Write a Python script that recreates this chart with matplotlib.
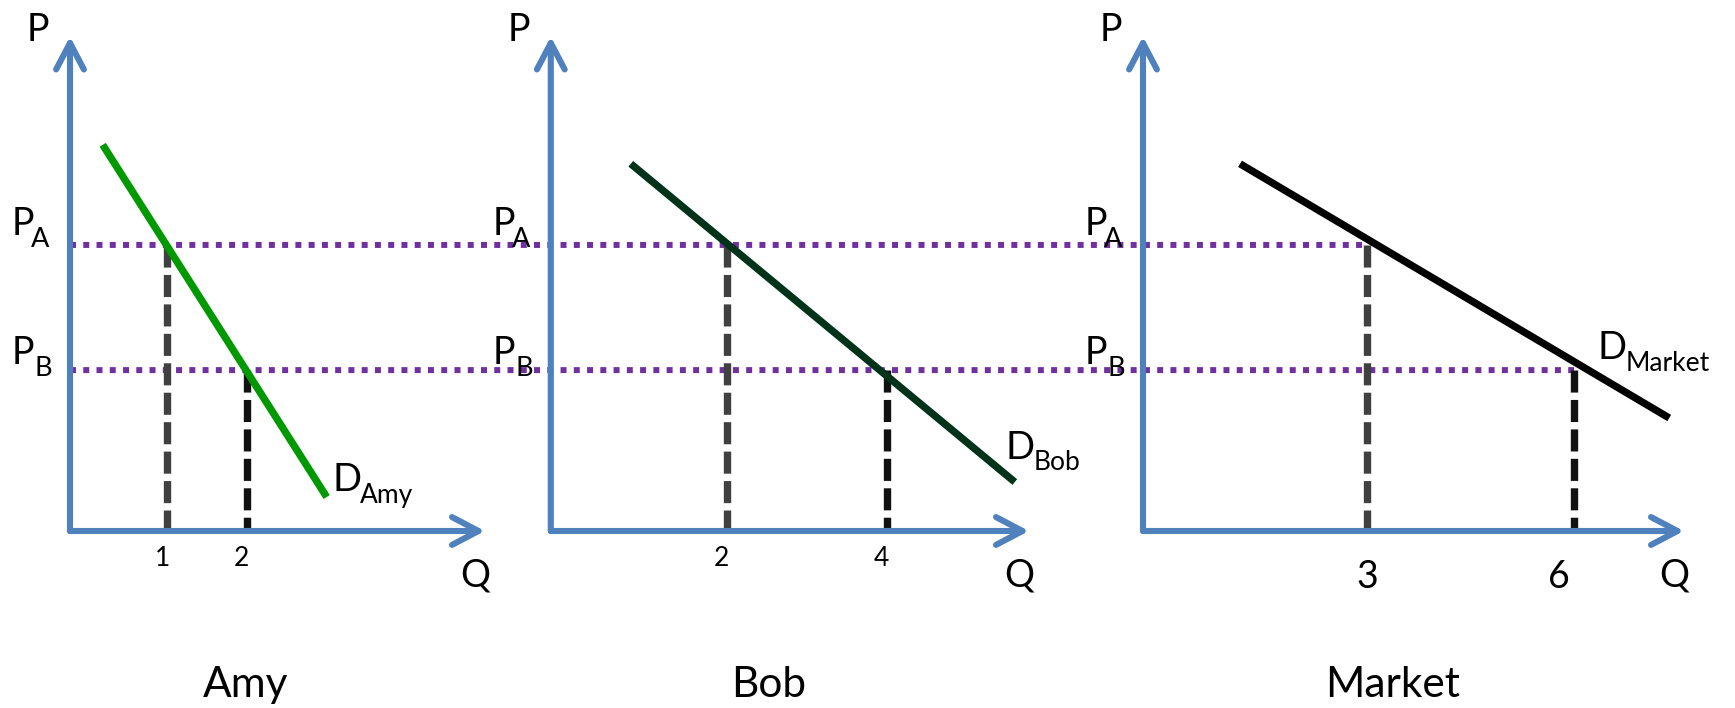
import matplotlib
matplotlib.use("Agg")
import matplotlib.pyplot as plt
from matplotlib.patches import ConnectionPatch

plt.rcParams['font.family'] = ['Lato', 'DejaVu Sans']

# ---------------- data ----------------
panel_names = ["Amy", "Bob", "Market"]
price_subs = ["A", "B"]
price_levels = [8.0, 4.5]            # P_A, P_B
amy_q = [1, 2]
bob_q = [2, 4]
market_q = [3, 6]
amy_demand_q = [0.2, 3.0]
amy_demand_p = [10.8, 0.95]
bob_demand_q = [0.8, 5.6]
bob_demand_p = [10.27, 1.37]
market_demand_q = [1.16, 7.38]
market_demand_p = [10.27, 3.16]

# ---------------- style ----------------
W, H = 1735, 708
BLUE = '#4F81BD'
PURPLE = '#7030A0'
DASH_COLORS = ['#404040', '#111111']
DEMAND_COLORS = ['#009900', '#00331A', '#000000']

fig = plt.figure(figsize=(W / 100, H / 100), dpi=100)

# panel geometry in pixels: (axis left, tip right, Q-origin px, px per unit)
panels = [
    dict(left=70, right=485, q0=86.7, unit=80.0),
    dict(left=550.8, right=1029, q0=566.8, unit=80.0),
    dict(left=1143, right=1684, q0=1160, unit=69.0),
]
bottom_px, top_px = 531, 36.5
ymax = 13.83

qs = [amy_q, bob_q, market_q]
dqs = [amy_demand_q, bob_demand_q, market_demand_q]
dps = [amy_demand_p, bob_demand_p, market_demand_p]
tick_sizes = [19, 19, 27]
tick_offsets = [[(-4.5, -35), (-5, -35)], [(-5, -35), (-5, -35)], [(0, -56.5), (-15, -56.5)]]
dlabel_offsets = [((6, 6), (33, -6)), ((-9, 23), (19, 12)), ((-72, 59), (-44, 47))]
title_x = [246, 769, 1393]

axes = []
for i, pn in enumerate(panels):
    ax = fig.add_axes([pn['left'] / W, 1 - bottom_px / H,
                       (pn['right'] - pn['left']) / W, (bottom_px - top_px) / H])
    xmin = (pn['left'] - pn['q0']) / pn['unit']
    xmax = (pn['right'] - pn['q0']) / pn['unit']
    ax.set_xlim(xmin, xmax)
    ax.set_ylim(0, ymax)
    ax.set_axis_off()
    ax.patch.set_alpha(0)
    ax.set_zorder(2)
    axes.append(ax)

    # axes arrows
    for xy in [(1, 0), (0, 1)]:
        ax.annotate('', xy=xy, xytext=(0, 0), xycoords='axes fraction',
                    arrowprops=dict(arrowstyle='->,head_length=19,head_width=10',
                                    mutation_scale=1, lw=4.4, color=BLUE,
                                    shrinkA=0, shrinkB=0, capstyle='round',
                                    joinstyle='round'), zorder=3)

    # vertical dashed lines
    for j, (q, p) in enumerate(zip(qs[i], price_levels)):
        ax.plot([q, q], [p, 0], color=DASH_COLORS[j], lw=5.3,
                linestyle=(0, (3, 1)), dash_capstyle='butt', clip_on=False, zorder=2)
        ax.annotate(str(q), xy=(q, 0), xytext=tick_offsets[i][j], textcoords='offset pixels',
                    ha='center', va='baseline', fontsize=tick_sizes[i])

    # demand line
    ax.plot(dqs[i], dps[i], color=DEMAND_COLORS[i], lw=5.3,
            solid_capstyle='butt', clip_on=False, zorder=4)
    end = (dqs[i][1], dps[i][1])
    (dx, dy), (sx, sy) = dlabel_offsets[i]
    ax.annotate('D', xy=end, xytext=(dx, dy), textcoords='offset pixels',
                ha='left', va='baseline', fontsize=27.5)
    ax.annotate(panel_names[i], xy=end, xytext=(sx, sy), textcoords='offset pixels',
                ha='left', va='baseline', fontsize=19)

    # price labels
    for p, sub, (py, sxo, syo) in zip(price_levels, price_subs,
                                      [(10, -30, -2), (6, -26.5, -6)]):
        ax.annotate('P', xy=(xmin, p), xytext=(-47, py), textcoords='offset pixels',
                    ha='center', va='baseline', fontsize=27)
        ax.annotate(sub, xy=(xmin, p), xytext=(sxo, syo), textcoords='offset pixels',
                    ha='center', va='baseline', fontsize=19.5)

    # axis names
    ax.annotate('P', xy=(0, 1), xycoords='axes fraction', xytext=(-32, -4.5),
                textcoords='offset pixels', ha='center', va='baseline', fontsize=27)
    ax.annotate('Q', xy=(1, 0), xycoords='axes fraction', xytext=(-10, -55),
                textcoords='offset pixels', ha='center', va='baseline', fontsize=27)

    # panel title
    fig.text(title_x[i] / W, (H - 697) / H, panel_names[i], ha='center',
             va='baseline', fontsize=30.5)

# purple dotted price lines spanning all panels
for j, p in enumerate(price_levels):
    con = ConnectionPatch(xyA=(axes[0].get_xlim()[0], p), coordsA=axes[0].transData,
                          xyB=(market_q[j], p), coordsB=axes[2].transData,
                          color=PURPLE, lw=4.3, linestyle=(0, (1.0, 1.22)),
                          capstyle='butt', zorder=1)
    fig.add_artist(con)

fig.savefig('out.png', dpi=100)
